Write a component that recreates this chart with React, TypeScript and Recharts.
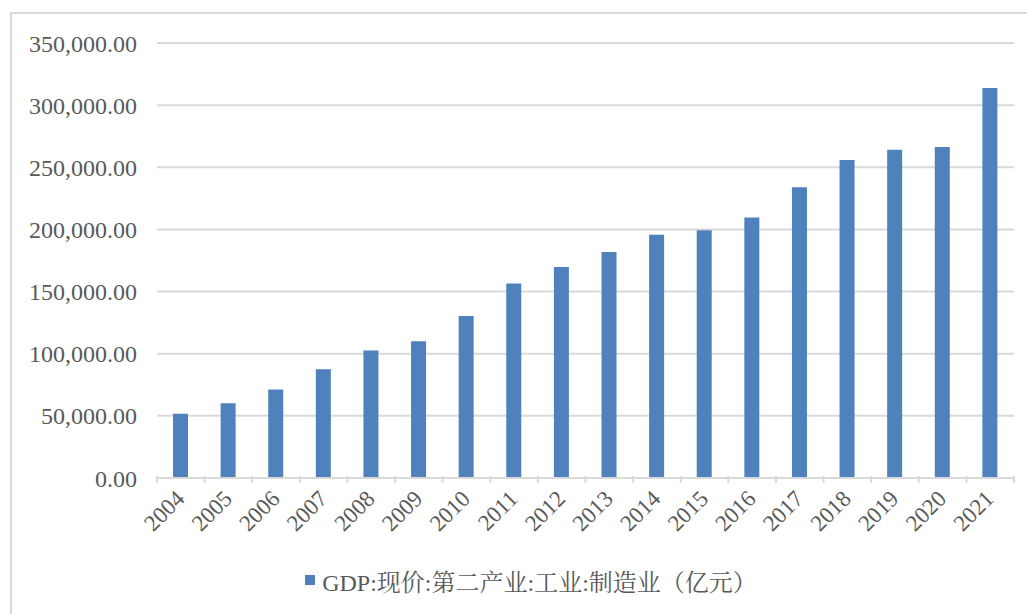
import { BarChart, Bar, XAxis, YAxis, CartesianGrid, Legend } from 'recharts'

const years = ['2004', '2005', '2006', '2007', '2008', '2009', '2010', '2011', '2012', '2013', '2014', '2015', '2016', '2017', '2018', '2019', '2020', '2021']
const manufacturing = [51748, 60118, 71213, 87465, 102539, 110118, 130282, 156457, 169807, 181868, 195620, 199436, 209509, 233877, 255937, 264137, 266418, 313797]
const yTicks = [0, 50000, 100000, 150000, 200000, 250000, 300000, 350000]

const SERIES = 'GDP:现价:第二产业:工业:制造业（亿元）'
const BLUE = '#4F81BD'
const GRID = '#D9D9D9'
const FONT = '"Liberation Serif", "Noto Serif CJK SC", "Noto Sans CJK SC", serif'

const W = 1027
const H = 614
const PLOT_LEFT = 157
const PLOT_RIGHT = 1014
const halfBand = (PLOT_RIGHT - PLOT_LEFT) / years.length / 2

const data = years.map((y, i) => ({ year: y, value: manufacturing[i] }))

const fmt = (v: number) =>
  v.toLocaleString('en-US', { minimumFractionDigits: 2, maximumFractionDigits: 2 })

function YearTick(props: any) {
  const { x, y, payload, index } = props
  const last = index === years.length - 1
  return (
    <g>
      <line x1={x - halfBand} x2={x - halfBand} y1={y - 10} y2={y - 3} stroke={GRID} strokeWidth={2} />
      {last && <line x1={x + halfBand} x2={x + halfBand} y1={y - 10} y2={y - 3} stroke={GRID} strokeWidth={2} />}
      <text
        x={x + 5}
        y={y + 14}
        transform={`rotate(-45 ${x + 5} ${y + 14})`}
        textAnchor="end"
        fill="#595959"
        fontSize={23}
        fontFamily={FONT}
      >
        {payload.value}
      </text>
    </g>
  )
}

function LegendContent() {
  return (
    <div style={{ display: 'flex', justifyContent: 'center', alignItems: 'center', fontFamily: FONT, fontSize: 24, color: '#595959', height: 24, paddingLeft: 48 }}>
      <span style={{ display: 'inline-block', width: 10, height: 10, background: BLUE, marginRight: 7 }} />
      <span>{SERIES}</span>
    </div>
  )
}

export default function App() {
  return (
    <div style={{ position: 'absolute', left: 0, top: 0, width: W, height: H, background: '#fff' }}>
      <div style={{ position: 'absolute', left: 10, top: 12, width: W - 10, height: H - 12, borderTop: '2px solid #D9D9D9', borderLeft: '2px solid #D9D9D9' }} />
      <BarChart
        width={W}
        height={H}
        data={data}
        margin={{ top: 43, right: W - PLOT_RIGHT, left: 0, bottom: 22 }}
        barSize={15}
      >
        <CartesianGrid vertical={false} stroke={GRID} strokeWidth={2} />
        <XAxis
          dataKey="year"
          height={90}
          interval={0}
          tickLine={false}
          axisLine={{ stroke: GRID, strokeWidth: 2 }}
          tick={<YearTick />}
        />
        <YAxis
          width={PLOT_LEFT}
          domain={[0, 350000]}
          ticks={yTicks}
          interval={0}
          tickFormatter={fmt}
          axisLine={false}
          tickLine={false}
          tickSize={0}
          tickMargin={20}
          tick={{ fill: '#595959', fontSize: 24, fontFamily: FONT }}
        />
        <Legend verticalAlign="bottom" content={<LegendContent />} />
        <Bar dataKey="value" name={SERIES} fill={BLUE} isAnimationActive={false} />
      </BarChart>
    </div>
  )
}
